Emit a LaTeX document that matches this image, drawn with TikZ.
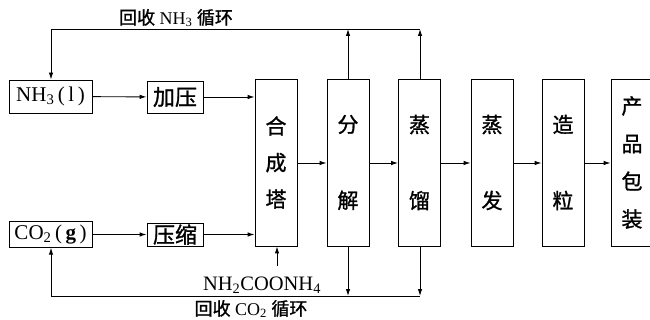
\documentclass[tikz,border=0pt]{standalone}
\usepackage{fontspec}
\setmainfont{Liberation Serif}
\newfontfamily\cjk[FakeBold=1.2]{Noto Sans CJK SC}
\usetikzlibrary{arrows.meta}
\begin{document}
\begin{tikzpicture}[x=1pt,y=-1pt,
  line width=0.9pt,
  arr/.style={-{Latex[length=7pt,width=4.5pt]}},
  smallbox/.style={draw,inner sep=0pt,minimum width=56pt},
  srcbox/.style={draw,inner sep=0pt,minimum width=83pt,font=\fontsize{21}{24}\selectfont},
  tall/.style={draw,inner sep=0pt,minimum width=42pt,minimum height=167pt,align=center},
  lbl/.style={inner sep=0pt,font=\fontsize{18}{20}\selectfont}]
\useasboundingbox (0,0) rectangle (650,320);
% source boxes
\node[srcbox,minimum height=33pt] (nh3) at (50.5,96.5) {NH\textsubscript{3}\,(\,l\,)};
\node[srcbox,minimum height=25.5pt] (co2) at (50.5,234.5) {CO\textsubscript{2}\,(\,\textbf{g}\,)};
\node[smallbox,minimum height=32pt,font=\cjk\fontsize{22}{24}\selectfont] (jy) at (175,97) {加压};
\node[smallbox,minimum height=23pt,font=\cjk\fontsize{22}{24}\selectfont] (ys) at (175,234.5) {压缩};
% tall boxes
\node[tall,font=\cjk\fontsize{21}{36.5}\selectfont] (hct) at (276,162.5) {合\\成\\塔};
\node[tall,font=\cjk\fontsize{21}{76}\selectfont] (fj) at (348,162.5) {分\\解};
\node[tall,font=\cjk\fontsize{21}{76}\selectfont] (zl) at (419.5,162.5) {蒸\\馏};
\node[tall,font=\cjk\fontsize{21}{76}\selectfont] (zf) at (492,162.5) {蒸\\发};
\node[tall,font=\cjk\fontsize{21}{76}\selectfont] (zli) at (563,162.5) {造\\粒};
\node[tall,font=\cjk\fontsize{21}{37.7}\selectfont] (cp) at (632,162.5) {产\\品\\包\\装};
% main flow
\draw[arr] (nh3) -- (jy);
\draw[arr] (co2) -- (ys);
\draw[arr] (jy.east) -- (jy.east -| hct.west);
\draw[arr] (ys.east) -- (ys.east -| hct.west);
\foreach \a/\b in {hct/fj,fj/zl,zl/zf,zf/zli,zli/cp}
  \draw[arr] ([yshift=-0.5pt]\a.east) -- ([yshift=-0.5pt]\b.west);
% NH3 recycle
\coordinate (tl) at (51,29);
\coordinate (t1) at (348,29);
\coordinate (t2) at (420,29);
\draw (tl) -- (t2);
\draw[arr] (tl) -- (tl |- nh3.north);
\draw[arr] (t1 |- fj.north) -- (t1);
\draw[arr] (t2 |- zl.north) -- (t2);
\node[lbl] (lt) at (176,18) {{\cjk 回收} NH\textsubscript{3} {\cjk 循环}};
% CO2 recycle
\coordinate (bl) at (51,296);
\coordinate (b1) at (348,296);
\coordinate (b2) at (420,296);
\draw (bl) -- (b2);
\draw[arr] (bl) -- (bl |- co2.south);
\draw[arr] (b1 |- fj.south) -- (b1);
\draw[arr] (b2 |- zl.south) -- (b2);
\node[lbl] (lb) at (251,309) {{\cjk 回收} CO\textsubscript{2} {\cjk 循环}};
% carbamate feed
\node[inner sep=0pt,font=\fontsize{20.5}{22}\selectfont] (nc) at (262,285) {NH\textsubscript{2}COONH\textsubscript{4}};
\coordinate (nct) at (277,266);
\draw[arr] (nct) -- (nct |- hct.south);
\end{tikzpicture}
\end{document}
